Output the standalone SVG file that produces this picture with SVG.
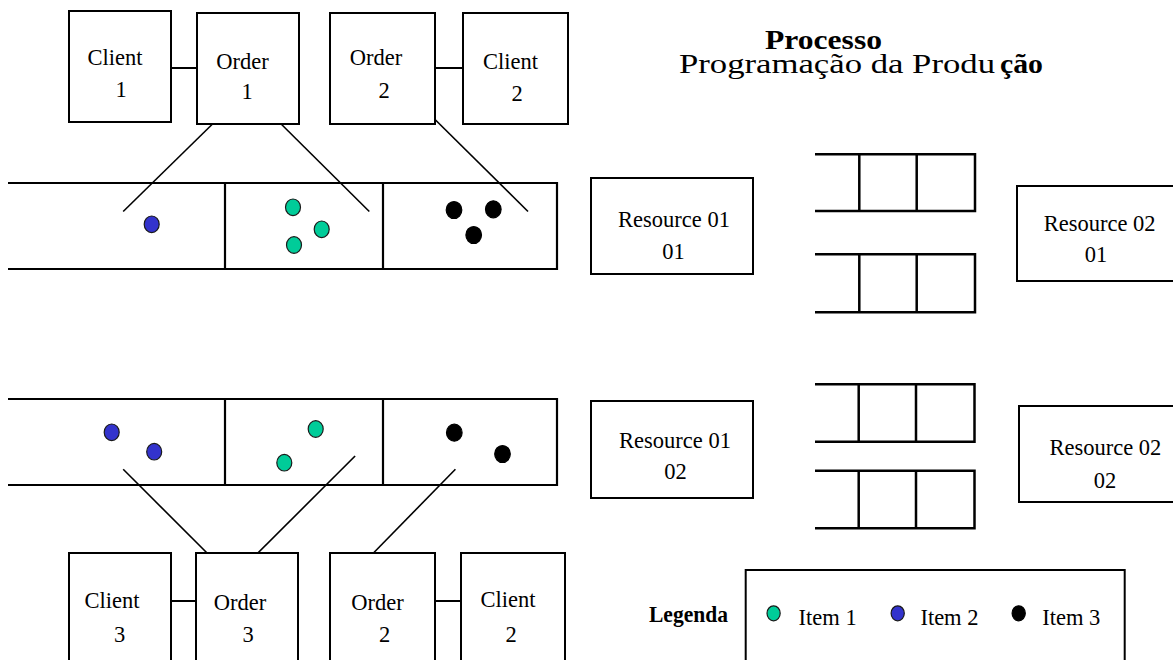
<svg xmlns="http://www.w3.org/2000/svg" width="1173" height="660" viewBox="0 0 1173 660">
  <style>
    .box { fill: #ffffff; stroke: #000000; stroke-width: 2; }
    .band { fill: none; stroke: #000000; stroke-width: 2.2; }
    .queue { fill: none; stroke: #000000; stroke-width: 2.5; }
    .link { fill: none; stroke: #000000; stroke-width: 1.6; }
    .tie { fill: none; stroke: #000000; stroke-width: 2; }
    .t { font-family: "Liberation Serif", "Times New Roman", serif; font-size: 22.5px; fill: #000000; }
    .c { text-anchor: middle; }
    .title { font-family: "Liberation Serif", "Times New Roman", serif; font-size: 27px; fill: #000000; }
    .b { font-weight: bold; }
    .i1 { fill: #00CC99; stroke: #1a1a1a; stroke-width: 1.2; }
    .i2 { fill: #3333CC; stroke: #1a1a1a; stroke-width: 1.2; }
    .i3 { fill: #000000; stroke: #000000; stroke-width: 1.2; }
  </style>

  <rect width="1173" height="660" fill="#ffffff"/>

  <!-- title -->
  <g id="title">
    <text class="title b" x="765" y="49" textLength="117" lengthAdjust="spacingAndGlyphs">Processo</text>
    <text class="title" x="679" y="73" textLength="316" lengthAdjust="spacingAndGlyphs">Programação da Produ</text>
    <text class="title b" x="1000" y="73" textLength="43" lengthAdjust="spacingAndGlyphs">ção</text>
  </g>

  <!-- connectors -->
  <g id="connectors">
    <line class="tie" x1="171" y1="68" x2="198" y2="68"/>
    <line class="tie" x1="435" y1="68" x2="463" y2="68"/>
    <line class="link" x1="225.8" y1="111" x2="123.2" y2="211.5"/>
    <line class="link" x1="268" y1="111" x2="369.3" y2="211.5"/>
    <line class="link" x1="412" y1="96.7" x2="528" y2="211.5"/>

    <line class="tie" x1="171" y1="601" x2="198" y2="601"/>
    <line class="tie" x1="432.5" y1="601" x2="461" y2="601"/>
    <line class="link" x1="123.2" y1="469.3" x2="225.8" y2="571.7"/>
    <line class="link" x1="355.1" y1="456" x2="239.2" y2="571.7"/>
    <line class="link" x1="455.4" y1="469.3" x2="355.1" y2="571.7"/>
  </g>

  <!-- upper order row -->
  <g id="client-1">
    <rect class="box" x="69" y="11" width="102" height="111"/>
    <text class="t c" x="115" y="65">Client</text>
    <text class="t c" x="121" y="97">1</text>
  </g>
  <g id="order-1">
    <rect class="box" x="197" y="13" width="102" height="111"/>
    <text class="t c" x="242.5" y="69">Order</text>
    <text class="t c" x="247" y="99">1</text>
  </g>
  <g id="order-2-top">
    <rect class="box" x="330" y="13" width="105" height="111"/>
    <text class="t c" x="376" y="65">Order</text>
    <text class="t c" x="384" y="97.5">2</text>
  </g>
  <g id="client-2-top">
    <rect class="box" x="463" y="13" width="105" height="111"/>
    <text class="t c" x="510.5" y="69">Client</text>
    <text class="t c" x="517" y="101">2</text>
  </g>

  <!-- upper item band -->
  <g id="band-1">
    <path class="band" d="M8 183 H557 V269 H8 M225 183 V269 M383 183 V269"/>
    <ellipse class="i2" cx="151.7" cy="224.3" rx="7.5" ry="8.3"/>
    <ellipse class="i1" cx="293" cy="207.3" rx="7.5" ry="8.3"/>
    <ellipse class="i1" cx="321.7" cy="229.3" rx="7.5" ry="8.3"/>
    <ellipse class="i1" cx="294" cy="245" rx="7.5" ry="8.3"/>
    <ellipse class="i3" cx="454" cy="210" rx="7.8" ry="8.5"/>
    <ellipse class="i3" cx="493.3" cy="209.3" rx="7.8" ry="8.5"/>
    <ellipse class="i3" cx="473.7" cy="235" rx="7.8" ry="8.5"/>
  </g>

  <!-- lower item band -->
  <g id="band-2">
    <path class="band" d="M8 399 H557 V485 H8 M225 399 V485 M383 399 V485"/>
    <ellipse class="i2" cx="111.7" cy="432.3" rx="7.5" ry="8.3"/>
    <ellipse class="i2" cx="154.2" cy="451.7" rx="7.5" ry="8.3"/>
    <ellipse class="i1" cx="315.7" cy="429" rx="7.5" ry="8.3"/>
    <ellipse class="i1" cx="284.3" cy="462.7" rx="7.5" ry="8.3"/>
    <ellipse class="i3" cx="454.3" cy="432.7" rx="7.8" ry="8.5"/>
    <ellipse class="i3" cx="502.5" cy="454" rx="7.8" ry="8.5"/>
  </g>

  <!-- lower order row -->
  <g id="client-3">
    <rect class="box" x="69" y="553" width="102" height="120"/>
    <text class="t c" x="112" y="608">Client</text>
    <text class="t c" x="119.5" y="641.5">3</text>
  </g>
  <g id="order-3">
    <rect class="box" x="196" y="553" width="102" height="120"/>
    <text class="t c" x="240" y="610">Order</text>
    <text class="t c" x="248" y="641.5">3</text>
  </g>
  <g id="order-2-bottom">
    <rect class="box" x="330" y="553" width="105" height="120"/>
    <text class="t c" x="377.5" y="610">Order</text>
    <text class="t c" x="384.6" y="641.5">2</text>
  </g>
  <g id="client-2-bottom">
    <rect class="box" x="461" y="553" width="104" height="120"/>
    <text class="t c" x="508" y="606.5">Client</text>
    <text class="t c" x="511" y="641.5">2</text>
  </g>

  <!-- resources -->
  <g id="resource-01-01">
    <rect class="box" x="591" y="178" width="162" height="96"/>
    <text class="t c" x="674" y="226.5">Resource 01</text>
    <text class="t c" x="673.5" y="259">01</text>
  </g>
  <g id="resource-01-02">
    <rect class="box" x="591" y="401" width="162" height="97"/>
    <text class="t c" x="675" y="448.3">Resource 01</text>
    <text class="t c" x="675.5" y="479.3">02</text>
  </g>
  <g id="resource-02-01">
    <rect class="box" x="1017" y="186" width="170" height="95"/>
    <text class="t c" x="1099.7" y="230.7">Resource 02</text>
    <text class="t c" x="1096" y="262.3">01</text>
  </g>
  <g id="resource-02-02">
    <rect class="box" x="1019" y="406" width="170" height="96"/>
    <text class="t c" x="1105.4" y="455">Resource 02</text>
    <text class="t c" x="1105" y="488.3">02</text>
  </g>

  <!-- buffers between resources -->
  <g id="buffer-1a">
    <path class="queue" d="M815 154.3 H975 V211 H815 M859.3 154.3 V211 M916.7 154.3 V211"/>
  </g>
  <g id="buffer-1b">
    <path class="queue" d="M815 254.3 H975 V312.3 H815 M859.3 254.3 V312.3 M916.7 254.3 V312.3"/>
  </g>
  <g id="buffer-2a">
    <path class="queue" d="M815 384.3 H974.5 V441.7 H815 M858.7 384.3 V441.7 M916 384.3 V441.7"/>
  </g>
  <g id="buffer-2b">
    <path class="queue" d="M815 470.7 H974.5 V528.3 H815 M858.7 470.7 V528.3 M916 470.7 V528.3"/>
  </g>

  <!-- legend -->
  <g id="legend">
    <text class="t b" x="649" y="621.7" textLength="79" lengthAdjust="spacingAndGlyphs">Legenda</text>
    <rect class="box" x="745.7" y="570" width="379" height="100"/>
    <ellipse class="i1" cx="773.6" cy="613.3" rx="6.6" ry="7.5"/>
    <text class="t" x="798.6" y="625">Item 1</text>
    <ellipse class="i2" cx="897.7" cy="613.3" rx="6.6" ry="7.5"/>
    <text class="t" x="920.4" y="625">Item 2</text>
    <ellipse class="i3" cx="1018.7" cy="613.3" rx="6.6" ry="7.5"/>
    <text class="t" x="1042.2" y="625">Item 3</text>
  </g>
</svg>
